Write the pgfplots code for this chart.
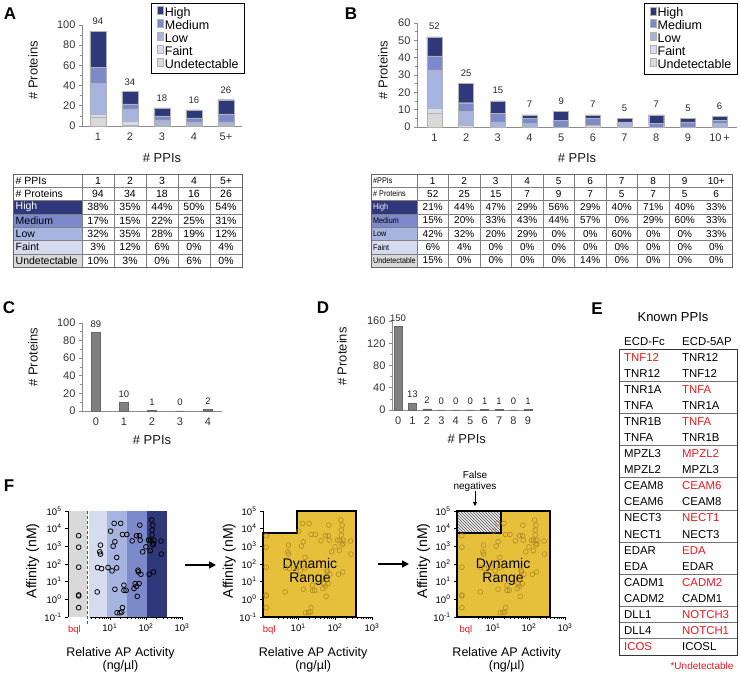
\documentclass[border=0pt]{standalone}
\usepackage{graphicx}
\usepackage{fontspec}
\setmainfont{Liberation Sans}
\usepackage{pgfplots}
\usepackage{pgfplotstable}
\pgfplotsset{compat=1.18}
\usetikzlibrary{patterns,arrows.meta}
\definecolor{cHigh}{RGB}{46,56,122}
\definecolor{cMed}{RGB}{124,138,204}
\definecolor{cLow}{RGB}{168,180,224}
\definecolor{cFaint}{RGB}{214,219,240}
\definecolor{cUnd}{RGB}{217,217,217}
\definecolor{cYel}{RGB}{230,192,58}
\definecolor{cPt}{RGB}{170,130,30}
\definecolor{cRed}{RGB}{230,25,35}
\newcommand\fs[2]{\fontsize{#1}{#2}\selectfont}

\pgfplotstableread{
lx ly
0.135 3.60
0.135 2.95
0.135 1.82
0.135 0.25
0.135 0.19
0.135 -0.47
0.65 0.42
0.66 1.80
0.77 1.74
0.72 2.69
0.74 2.56
0.74 3.07
0.95 1.80
1.02 3.86
1.06 1.61
1.12 4.30
1.14 3.26
1.09 3.01
1.19 2.37
1.19 1.78
1.14 0.57
1.30 4.30
1.35 3.67
1.39 0.80
1.39 0.51
1.45 0.51
1.35 -0.47
1.33 -0.72
1.20 -0.76
1.28 -0.76
1.47 3.67
1.62 3.31
1.70 0.89
1.67 0.61
1.74 3.60
1.76 0.17
1.78 1.65
1.79 1.55
1.81 0.89
1.83 4.20
1.82 3.60
1.84 3.35
1.86 1.42
1.91 2.69
1.74 0.74
2.00 2.97
2.09 1.42
2.13 3.35
2.16 4.49
2.17 3.92
2.17 3.64
2.19 4.20
2.19 3.07
2.21 3.16
2.21 1.55
2.22 3.35
2.42 3.30
2.43 2.56
2.12 2.75
2.07 3.35
}\fpts

\pgfplotsset{
  /pgf/number format/assume math mode=true,
  barax/.style={scale only axis, anchor=south west,
    axis x line*=bottom, axis y line*=left,
    axis line style={draw=black!45, line width=0.7pt},
    tick align=outside, xtick style={draw=none},
    ytick style={draw=black!45, line width=0.6pt},
    major tick length=3pt, minor tick length=2pt,
    tick label style={font=\fs{11}{12}, text=black!80},
    label style={font=\fs{13}{14}, text=black!90},
    enlargelimits=false, clip=false,
    every node near coord/.append style={font=\fs{9.5}{10}, text=black!85, yshift=1.5pt}},
  legbox/.style={legend cell align=left, reverse legend,
    legend style={draw=black, line width=0.9pt, fill=white, font=\fs{12.5}{13},
      nodes={inner sep=1.2pt}, inner xsep=5pt, inner ysep=3pt},
    legend image code/.code={\draw[##1, line width=0.3pt] (0pt,-4.6pt) rectangle (9.5pt,4.6pt);}},
  fax/.style={scale only axis, anchor=south west, ymin=-1, ymax=5, xmax=3,
    axis x line*=bottom, axis y line*=left,
    x axis line style={draw=none}, y axis line style={black, line width=0.8pt},
    axis on top, tick align=outside, major tick length=3pt, minor tick length=2pt,
    tick style={black, line width=0.6pt},
    ytick={-1,0,1,2,3,4,5},
    yticklabels={10\textsuperscript{-1},10\textsuperscript{0},10\textsuperscript{1},10\textsuperscript{2},10\textsuperscript{3},10\textsuperscript{4},10\textsuperscript{5}},
    xtick={1,2,3}, xticklabels={10\textsuperscript{1},10\textsuperscript{2},10\textsuperscript{3}},
    tick label style={font=\fs{9.5}{10}},
    clip=false,
    xlabel={Relative AP Activity\\(ng/µl)}, ylabel={Affinity (nM)},
    xlabel style={font=\fs{12.5}{13}, align=center, at={(axis description cs:0.46,-0.40)}, anchor=center},
    ylabel style={font=\fs{14}{14}, at={(axis description cs:-0.31,0.53)}, anchor=center}},
}

\begin{document}
\begin{tikzpicture}[x=1pt,y=1pt]
\path[use as bounding box] (0pt,0pt) rectangle (740pt,675pt);

% panel letters
\begin{scope}[font=\fs{17}{17}\bfseries]
\node at (10,661) {A};
\node at (351,661) {B};
\node at (9,367) {C};
\node at (323,367) {D};
\node at (597,366) {E};
\node at (9,189) {F};
\end{scope}

% ---------------- Panel A ----------------
\begin{axis}[barax, legbox, at={(82pt,549pt)}, width=160pt, height=101pt,
  xmin=0.5, xmax=5.5, ymin=0, ymax=100, ybar stacked, bar width=16pt,
  ytick={0,20,40,60,80,100}, minor ytick={10,30,50,70,90},
  xtick={1,2,3,4,5}, xticklabels={1,2,3,4,5+},
  xlabel={\# PPIs}, ylabel={\# Proteins},
  xlabel style={at={(axis description cs:0.5,-0.317)}, anchor=center},
  ylabel style={at={(axis description cs:-0.306,0.55)}, anchor=center},
  legend style={at={(1.02,1.22)}, anchor=north east}]
\addplot[fill=cUnd, draw=black!30] coordinates {(1,9) (2,1) (3,0) (4,1) (5,0)};
\addlegendentry{Undetectable}
\addplot[fill=cFaint, draw=black!30] coordinates {(1,3) (2,4) (3,1) (4,0) (5,1)};
\addlegendentry{Faint}
\addplot[fill=cLow, draw=black!30] coordinates {(1,30) (2,12) (3,5) (4,3) (5,3)};
\addlegendentry{Low}
\addplot[fill=cMed, draw=black!30] coordinates {(1,16) (2,5) (3,4) (4,4) (5,8)};
\addlegendentry{Medium}
\addplot[fill=cHigh, draw=black!30] coordinates {(1,36) (2,12) (3,8) (4,8) (5,14)};
\addlegendentry{High}
\end{axis}
% totals A
\begin{axis}[barax, hide axis, at={(82pt,549pt)}, width=160pt, height=101pt,
  xmin=0.5, xmax=5.5, ymin=0, ymax=100]
\addplot[only marks, mark=none, nodes near coords, point meta=explicit symbolic,
  every node near coord/.append style={anchor=south, yshift=1pt}]
  coordinates {(1,94)[94] (2,34)[34] (3,18)[18] (4,16)[16] (5,26)[26]};
\end{axis}

% ---------------- Panel B ----------------
\begin{axis}[barax, legbox, at={(417pt,548pt)}, width=320pt, height=104pt,
  xmin=0.45, xmax=10.55, ymin=0, ymax=60, ybar stacked, bar width=15pt,
  ytick={0,10,20,30,40,50,60}, minor ytick={5,15,25,35,45,55},
  xtick={1,2,3,4,5,6,7,8,9,10}, xticklabels={1,2,3,4,5,6,7,8,9,10\,+},
  xlabel={\# PPIs}, ylabel={\# Proteins},
  xlabel style={at={(axis description cs:0.5,-0.30)}, anchor=center},
  ylabel style={at={(axis description cs:-0.106,0.55)}, anchor=center},
  legend style={at={(1.003,1.192)}, anchor=north east}]
\addplot[fill=cUnd, draw=black!30] coordinates {(1,8) (2,0) (3,0) (4,0) (5,0) (6,1) (7,0) (8,0) (9,0) (10,0)};
\addlegendentry{Undetectable}
\addplot[fill=cFaint, draw=black!30] coordinates {(1,3) (2,1) (3,0) (4,0) (5,0) (6,0) (7,0) (8,0) (9,0) (10,0)};
\addlegendentry{Faint}
\addplot[fill=cLow, draw=black!30] coordinates {(1,22) (2,8) (3,3) (4,2) (5,0) (6,0) (7,3) (8,0) (9,0) (10,2)};
\addlegendentry{Low}
\addplot[fill=cMed, draw=black!30] coordinates {(1,8) (2,5) (3,5) (4,3) (5,4) (6,4) (7,0) (8,2) (9,3) (10,2)};
\addlegendentry{Medium}
\addplot[fill=cHigh, draw=black!30] coordinates {(1,11) (2,11) (3,7) (4,2) (5,5) (6,2) (7,2) (8,5) (9,2) (10,2)};
\addlegendentry{High}
\end{axis}
% totals B
\begin{axis}[barax, hide axis, at={(417pt,548pt)}, width=320pt, height=104pt,
  xmin=0.45, xmax=10.55, ymin=0, ymax=60]
\addplot[only marks, mark=none, nodes near coords, point meta=explicit symbolic,
  every node near coord/.append style={anchor=south, yshift=2pt}]
  coordinates {(1,52)[52] (2,25)[25] (3,15)[15] (4,7)[7] (5,9)[9] (6,7)[7] (7,5)[5] (8,7)[7] (9,5)[5] (10,6)[6]};
\end{axis}

% ---------------- Table A ----------------
\begin{scope}[font=\fs{10.5}{11}]
\fill[cHigh] (13,{501-13.3*2}) rectangle (82,{501-13.3*3});
\fill[cMed] (13,{501-13.3*3}) rectangle (82,{501-13.3*4});
\fill[cLow] (13,{501-13.3*4}) rectangle (82,{501-13.3*5});
\fill[cFaint] (13,{501-13.3*5}) rectangle (82,{501-13.3*6});
\fill[cUnd] (13,{501-13.3*6}) rectangle (82,{501-13.3*7});
\foreach \k in {1,...,6} \draw[black!50, line width=0.5pt] (13,{501-13.3*\k}) -- (242,{501-13.3*\k});
\foreach \x in {82,114,146,178,210} \draw[black!50, line width=0.5pt] (\x,501) -- (\x,{501-13.3*7});
\draw[black!60, line width=0.7pt] (13,501) rectangle (242,{501-13.3*7});
\foreach \t/\c [count=\r] in {\# PPIs/black, \# Proteins/black, High/white, Medium/black, Low/black, Faint/black, Undetectable/black}
  \node[anchor=west, text=\c, inner sep=1pt] at (14.5,{501-13.3*(\r-0.5)}) {\t};
\foreach \row [count=\r] in {{1,2,3,4,5+},{94,34,18,16,26}}
  \foreach \v [count=\c] in \row
    \node[inner sep=0pt] at ({98+32*(\c-1)},{501-13.3*(\r-0.5)}) {\v};
\foreach \row [count=\r from 3] in {{38,35,44,50,54},{17,15,22,25,31},{32,35,28,19,12},{3,12,6,0,4},{10,3,0,6,0}}
  \foreach \v [count=\c] in \row
    \node[inner sep=0pt] at ({98+32*(\c-1)},{501-13.3*(\r-0.5)}) {\v\%};
\end{scope}

% ---------------- Table B ----------------
\begin{scope}[font=\fs{10}{11}]
\fill[cHigh] (371,{501-13.3*2}) rectangle (417,{501-13.3*3});
\fill[cMed] (371,{501-13.3*3}) rectangle (417,{501-13.3*4});
\fill[cLow] (371,{501-13.3*4}) rectangle (417,{501-13.3*5});
\fill[cFaint] (371,{501-13.3*5}) rectangle (417,{501-13.3*6});
\fill[cUnd] (371,{501-13.3*6}) rectangle (417,{501-13.3*7});
\foreach \k in {1,...,6} \draw[black!50, line width=0.5pt] (371,{501-13.3*\k}) -- (732,{501-13.3*\k});
\foreach \j in {0,...,8} \draw[black!50, line width=0.5pt] ({417+31.5*\j},501) -- ({417+31.5*\j},{501-13.3*7});
\draw[black!60, line width=0.7pt] (371,501) rectangle (732,{501-13.3*7});
\foreach \t/\c [count=\r] in {\#PPIs/black, \# Proteins/black, High/white, Medium/black, Low/black, Faint/black, Undetectable/black}
  \node[anchor=west, text=\c, inner sep=1pt, font=\fs{8.2}{9}] at (372,{501-13.3*(\r-0.5)}) {\scalebox{0.88}[1]{\t}};
\foreach \row [count=\r] in {{1,2,3,4,5,6,7,8,9,10+},{52,25,15,7,9,7,5,7,5,6}}
  \foreach \v [count=\c] in \row
    \node[inner sep=0pt] at ({432.75+31.5*(\c-1)},{501-13.3*(\r-0.5)}) {\v};
\foreach \row [count=\r from 3] in {{21,44,47,29,56,29,40,71,40,33},{15,20,33,43,44,57,0,29,60,33},{42,32,20,29,0,0,60,0,0,33},{6,4,0,0,0,0,0,0,0,0},{15,0,0,0,0,14,0,0,0,0}}
  \foreach \v [count=\c] in \row
    \node[inner sep=0pt] at ({432.75+31.5*(\c-1)},{501-13.3*(\r-0.5)}) {\v\%};
\end{scope}

% ---------------- Panel C ----------------
\begin{axis}[barax, at={(82pt,264pt)}, width=140pt, height=88pt,
  xmin=-0.5, xmax=4.5, ymin=0, ymax=100, ybar, bar width=9pt,
  ytick={0,20,40,60,80,100}, minor ytick={10,30,50,70,90},
  xtick={0,1,2,3,4},
  xlabel={\# PPIs}, ylabel={\# Proteins},
  xlabel style={at={(axis description cs:0.5,-0.33)}, anchor=center},
  ylabel style={at={(axis description cs:-0.35,0.61)}, anchor=center}]
\addplot[fill=black!50, draw=black!60, nodes near coords] coordinates {(0,89) (1,10) (2,1) (3,0) (4,2)};
\end{axis}

% ---------------- Panel D ----------------
\begin{axis}[barax, at={(392pt,265pt)}, width=141pt, height=89pt,
  xmin=-0.42, xmax=9.35, ymin=0, ymax=160, ybar, bar width=8pt,
  ytick={0,40,80,120,160}, minor ytick={20,60,100,140},
  xtick={0,1,2,3,4,5,6,7,8,9},
  xlabel={\# PPIs}, ylabel={\# Proteins},
  xlabel style={at={(axis description cs:0.53,-0.33)}, anchor=center},
  ylabel style={at={(axis description cs:-0.355,0.6)}, anchor=center}]
\addplot[fill=black!50, draw=black!60, nodes near coords] coordinates {(0,150) (1,13) (2,2) (3,0) (4,0) (5,0) (6,1) (7,1) (8,0) (9,1)};
\end{axis}

% ---------------- Panel E ----------------
\node[font=\fs{13}{14}] at (673,358) {Known PPIs};
\node[font=\fs{11.4}{12}, anchor=west, inner sep=0pt] at (624,333) {ECD-Fc};
\node[font=\fs{11.4}{12}, anchor=west, inner sep=0pt] at (682,333) {ECD-5AP};
\begin{scope}[font=\fs{11.4}{12}]
\foreach \a/\b/\ca/\cb [count=\r] in {TNF12/TNR12/cRed/black, TNR12/TNF12/black/black,
  TNR1A/TNFA/black/cRed, TNFA/TNR1A/black/black, TNR1B/TNFA/black/cRed, TNFA/TNR1B/black/black,
  MPZL3/MPZL2/black/cRed, MPZL2/MPZL3/black/black, CEAM8/CEAM6/black/cRed, CEAM6/CEAM8/black/black,
  NECT3/NECT1/black/cRed, NECT1/NECT3/black/black, EDAR/EDA/black/cRed, EDA/EDAR/black/black,
  CADM1/CADM2/black/cRed, CADM2/CADM1/black/black, DLL1/NOTCH3/black/cRed, DLL4/NOTCH1/black/cRed,
  ICOS/ICOSL/cRed/black}
{
  \node[anchor=west, text=\ca, inner sep=0pt] at (624,{326-16.1*(\r-0.5)}) {\a};
  \node[anchor=west, text=\cb, inner sep=0pt] at (682,{326-16.1*(\r-0.5)}) {\b};
}
\end{scope}
\foreach \k in {2,4,6,8,10,12,14,16,17,18} \draw[black!55, line width=0.6pt] (619,{326-16.1*\k}) -- (737,{326-16.1*\k});
\draw[black!80, line width=0.7pt] (619,326) rectangle (737,{326-16.1*19});
\node[font=\fs{10}{11}, text=cRed] at (702,9) {*Undetectable};

% ---------------- Panel F (1) ----------------
\begin{axis}[fax, at={(68pt,58pt)}, width=114pt, height=106pt, xmin=-0.16,
  minor xtick={0.477,0.602,0.699,0.778,0.845,0.903,0.954,1.301,1.477,1.602,1.699,1.778,1.845,1.903,1.954,2.301,2.477,2.602,2.699,2.778,2.845,2.903,2.954}]
\fill[cUnd] (axis cs:-0.16,-1) rectangle (axis cs:0.37,5);
\fill[cFaint] (axis cs:0.43,-1) rectangle (axis cs:0.91,5);
\fill[cLow] (axis cs:0.91,-1) rectangle (axis cs:1.47,5);
\fill[cMed] (axis cs:1.47,-1) rectangle (axis cs:2.02,5);
\fill[cHigh] (axis cs:2.02,-1) rectangle (axis cs:2.58,5);
\addplot[color=cRed, dash pattern=on 3pt off 2pt, line width=1pt, mark=none] coordinates {(0.37,5) (0.37,-1.45)};
\addplot[only marks, mark=o, mark size=2.4pt, mark options={draw=black, line width=0.75pt}] table[x=lx,y=ly] {\fpts};
\draw[black, line width=0.8pt] (axis cs:0.46,-1) -- (axis cs:3,-1);
\node[text=cRed, font=\fs{9.5}{10}] at (axis cs:0.02,-1.72) {bql};
\end{axis}

\draw[line width=1.6pt, -{Triangle[length=7pt,width=7pt]}] (185,110) -- (216,110);

% ---------------- Panel F (2) ----------------
\begin{axis}[fax, at={(263pt,58pt)}, width=109pt, height=106pt, xmin=0.05,
  minor xtick={0.477,0.602,0.699,0.778,0.845,0.903,0.954,1.301,1.477,1.602,1.699,1.778,1.845,1.903,1.954,2.301,2.477,2.602,2.699,2.778,2.845,2.903,2.954}]
\filldraw[fill=cYel, draw=black, line width=1.3pt] (axis cs:0.05,-1) -- (axis cs:0.05,3.75) -- (axis cs:0.97,3.75) -- (axis cs:0.97,5) -- (axis cs:2.57,5) -- (axis cs:2.57,-1) -- cycle;
\addplot[only marks, mark=o, mark size=2.4pt, mark options={draw=cPt, line width=0.6pt, draw opacity=0.85}] table[x=lx,y=ly] {\fpts};
\draw[black, line width=0.8pt] (axis cs:0.45,-1) -- (axis cs:3,-1);
\node[text=cRed, font=\fs{9.5}{10}] at (axis cs:0.22,-1.72) {bql};
\node[font=\fs{14}{14}, align=center] at (axis cs:1.32,1.55) {Dynamic\\Range};
\end{axis}

\draw[line width=1.6pt, -{Triangle[length=7pt,width=7pt]}] (378,111) -- (409,111);

% ---------------- Panel F (3) ----------------
\begin{axis}[fax, at={(457pt,58pt)}, width=108pt, height=106pt, xmin=0,
  minor xtick={0.602,0.699,0.778,0.845,0.903,0.954,1.301,1.477,1.602,1.699,1.778,1.845,1.903,1.954,2.301,2.477,2.602,2.699,2.778,2.845,2.903,2.954}]
\filldraw[fill=cYel, draw=black, line width=1.3pt] (axis cs:0,-1) rectangle (axis cs:2.58,5);
\addplot[only marks, mark=o, mark size=2.4pt, mark options={draw=cPt, line width=0.6pt, draw opacity=0.85}] table[x=lx,y=ly] {\fpts};
\fill[black!8] (axis cs:0,3.75) rectangle (axis cs:1.22,5);
\fill[pattern=north west lines, pattern color=black!65] (axis cs:0,3.75) rectangle (axis cs:1.22,5);
\draw[black, line width=1.3pt] (axis cs:0,3.75) rectangle (axis cs:1.22,5);
\draw[black, line width=0.8pt] (axis cs:0.55,-1) -- (axis cs:3,-1);
\node[text=cRed, font=\fs{9.5}{10}] at (axis cs:0.25,-1.72) {bql};
\node[font=\fs{14}{14}, align=center] at (axis cs:1.28,1.55) {Dynamic\\Range};
\end{axis}

\node[font=\fs{10}{10.5}, align=center] at (475,193.5) {False\\negatives};
\draw[line width=1pt, -{Triangle[length=4pt,width=4pt]}] (475,184) -- (475,169);

\end{tikzpicture}
\end{document}
